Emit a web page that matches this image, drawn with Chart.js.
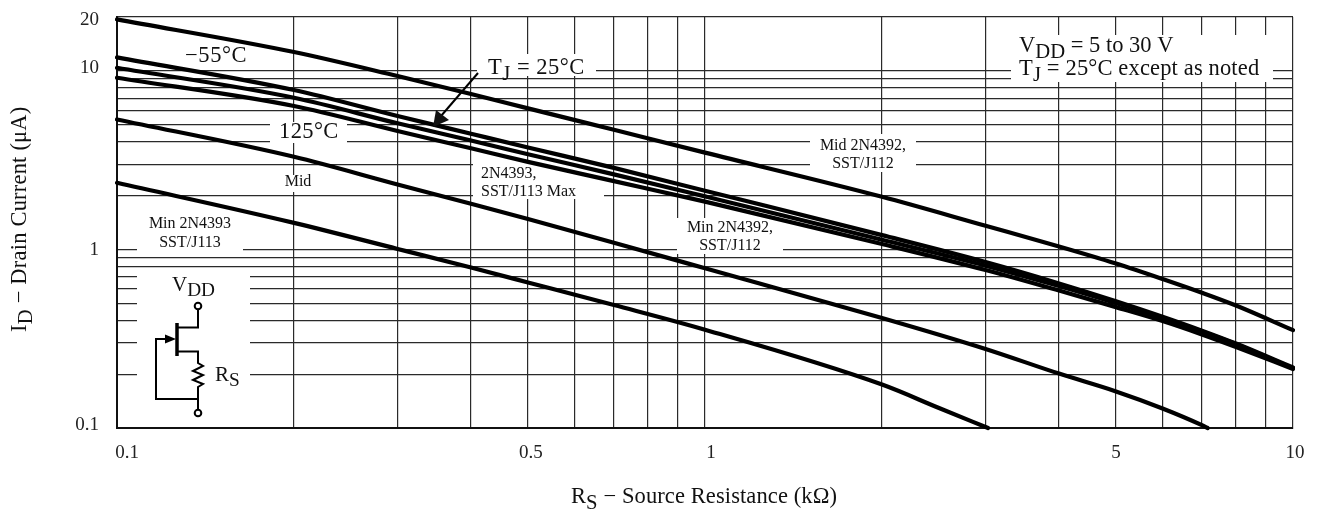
<!DOCTYPE html>
<html>
<head>
<meta charset="utf-8">
<title>Drain Current vs Source Resistance</title>
<script src="https://cdn.jsdelivr.net/npm/chart.js@4"></script>
<style>
  html, body { margin: 0; padding: 0; background: #fff; }
  canvas { display: block; }
</style>
</head>
<body>
<canvas id="idRsChart" width="1320" height="510"></canvas>
<script>
// axis ticks
const xGridValues = [0.1, 0.2, 0.3, 0.4, 0.5, 0.6, 0.7, 0.8, 0.9, 1, 2, 3, 4, 5, 6, 7, 8, 9, 10];
const yGridValues = [0.1, 0.2, 0.3, 0.4, 0.5, 0.6, 0.7, 0.8, 0.9, 1, 2, 3, 4, 5, 6, 7, 8, 9, 10, 20];
const xLabelValues = [0.1, 0.5, 1, 5, 10];
const xLabels = ['0.1', '0.5', '1', '5', '10'];
const xLabelNudge = [10, 3, 6, 0, 2];
const yLabelValues = [0.1, 1, 10, 20];
const yLabels = ['0.1', '1', '10', '20'];
const yLabelNudge = [-3, 1, -3, 3];

// Rs in kOhm
const rsFull = [0.1, 0.2, 0.3, 0.4, 0.5, 0.7, 1, 2, 3, 4, 5, 6, 7, 8, 10];
const rsMid = [0.1, 0.2, 0.3, 0.4, 0.5, 0.7, 1, 2, 3, 4, 5, 6, 7, 7.16];
const rsMin = [0.1, 0.2, 0.3, 0.4, 0.5, 0.7, 1, 2, 2.5, 3.03];

// Id in uA
const idMaxJ112 = [19.4, 12.73, 9.34, 7.41, 6.16, 4.67, 3.48, 1.97, 1.356, 1.039, 0.834, 0.683, 0.572, 0.485, 0.353];
const idCold = [11.89, 7.8, 5.58, 4.44, 3.72, 2.86, 2.13, 1.202, 0.849, 0.645, 0.513, 0.42, 0.351, 0.297, 0.218];
const idRoom = [10.39, 7.06, 5.08, 4.07, 3.41, 2.63, 1.98, 1.133, 0.811, 0.623, 0.5, 0.414, 0.347, 0.295, 0.216];
const idHot = [9.14, 6.35, 4.6, 3.68, 3.09, 2.41, 1.85, 1.071, 0.766, 0.588, 0.475, 0.397, 0.334, 0.284, 0.214];
const idMid = [5.34, 3.3, 2.31, 1.8, 1.478, 1.089, 0.784, 0.413, 0.277, 0.2016, 0.1603, 0.1287, 0.1038, 0.1];
const idMin = [2.36, 1.407, 1.006, 0.791, 0.653, 0.488, 0.355, 0.175, 0.1294, 0.1];

const SERIF = '"Liberation Serif", "Times New Roman", serif';

// white patches that break the grid behind the notes: x, y, w, h
const notePatches = [
    [270, 122, 77, 21],
    [477, 54, 119, 22],
    [1011, 35, 262, 47],
    [810, 134, 106, 38],
    [473, 160, 131, 39],
    [677, 218, 106, 36],
    [283, 175, 31, 17],
    [137, 215, 106, 37],
    [137, 270, 113, 108]
];

// text, centre x, baseline y
const smallNotes = [
    ['Mid 2N4392,', 863, 150],
    ['SST/J112', 863, 168],
    ['Mid', 298, 186],
    ['Min 2N4393', 190, 228],
    ['SST/J113', 190, 247],
    ['Min 2N4392,', 730, 232],
    ['SST/J112', 730, 250]
];

function line(data, xs) {
    return {
        data: data.map((v, i) => ({ x: xs[i], y: v })),
        borderColor: '#000',
        borderWidth: 4.2,
        borderCapStyle: 'round',
        pointRadius: 0,
        cubicInterpolationMode: 'monotone',
        clip: 3
    };
}

// text with subscripts, parts are [text, isSub]
function drawRuns(ctx, parts, x, y, size, spacing) {
    ctx.textAlign = 'left';
    ctx.textBaseline = 'alphabetic';
    ctx.letterSpacing = (spacing || 0) + 'px';
    let cx = x;
    parts.forEach(p => {
        ctx.font = (p[1] ? size * 0.92 : size) + 'px ' + SERIF;
        ctx.fillText(p[0], cx, y + (p[1] ? size * 0.25 : 0));
        cx += ctx.measureText(p[0]).width;
    });
    ctx.letterSpacing = '0px';
}

const notesPlugin = {
    id: 'notesPlugin',
    beforeDraw(chart) {
        // hand placed tick labels, the printed axis has them off centre
        const fixLabels = (scale, values, labels, nudge, idx) => {
            scale.getLabelItems(chart.chartArea).forEach(item => {
                const i = labels.indexOf(item.label);
                if (i >= 0) {
                    item.options.translation[idx] = scale.getPixelForValue(values[i]) + nudge[i];
                }
            });
        };
        fixLabels(chart.scales.x, xLabelValues, xLabels, xLabelNudge, 0);
        fixLabels(chart.scales.y, yLabelValues, yLabels, yLabelNudge, 1);
    },
    beforeDatasetsDraw(chart) {
        const ctx = chart.ctx;
        ctx.save();
        ctx.fillStyle = '#fff';
        notePatches.forEach(p => ctx.fillRect(p[0], p[1], p[2], p[3]));
        ctx.restore();
    },
    afterDatasetsDraw(chart) {
        const ctx = chart.ctx;
        ctx.save();
        ctx.fillStyle = '#111';

        ctx.textAlign = 'center';
        ctx.textBaseline = 'alphabetic';
        ctx.font = '16px ' + SERIF;
        smallNotes.forEach(n => ctx.fillText(n[0], n[1], n[2]));
        ctx.textAlign = 'left';
        ctx.fillText('2N4393,', 481, 178);
        ctx.fillText('SST/J113 Max', 481, 196);

        drawRuns(ctx, [['\u221255\u00b0C', false]], 185, 62, 22.5, 0.6);
        drawRuns(ctx, [['125\u00b0C', false]], 279, 138, 22.5, 0.4);
        drawRuns(ctx, [['T', false], ['J', true], [' = 25\u00b0C', false]], 488, 74, 22.5, 0.5);
        drawRuns(ctx, [['V', false], ['DD', true], [' = 5 to 30 V', false]], 1019, 52, 22.5, 0);
        drawRuns(ctx, [['T', false], ['J', true], [' = 25\u00b0C except as noted', false]], 1019, 75, 22.5, 0.15);

        // arrow to the 25C curve
        ctx.strokeStyle = '#000';
        ctx.lineWidth = 2;
        ctx.beginPath();
        ctx.moveTo(478, 73);
        ctx.lineTo(441, 116);
        ctx.stroke();
        ctx.beginPath();
        ctx.moveTo(433, 127);
        ctx.lineTo(436, 110);
        ctx.lineTo(449, 120);
        ctx.closePath();
        ctx.fill();

        drawCircuit(ctx);

        // axis titles
        drawRuns(ctx, [['R', false], ['S', true], [' \u2212 Source Resistance (k\u03a9)', false]], 571, 503, 22.5, 0.1);
        ctx.save();
        ctx.translate(26, 332);
        ctx.rotate(-Math.PI / 2);
        drawRuns(ctx, [['I', false], ['D', true], [' \u2212 Drain Current (\u03bcA)', false]], 0, 0, 22.5, 0.2);
        ctx.restore();

        ctx.restore();
    }
};

function drawCircuit(ctx) {
    drawRuns(ctx, [['V', false], ['DD', true]], 172, 291, 21);
    drawRuns(ctx, [['R', false], ['S', true]], 215, 381, 21);

    ctx.strokeStyle = '#000';
    ctx.lineWidth = 2;
    ctx.lineJoin = 'miter';
    ctx.beginPath();
    // drain
    ctx.moveTo(198, 309);
    ctx.lineTo(198, 327.5);
    ctx.lineTo(177, 327.5);
    // source and resistor
    ctx.moveTo(177, 351.5);
    ctx.lineTo(198, 351.5);
    ctx.lineTo(198, 363);
    ctx.lineTo(203, 366);
    ctx.lineTo(193, 371);
    ctx.lineTo(203, 375);
    ctx.lineTo(193, 380);
    ctx.lineTo(203, 384);
    ctx.lineTo(198, 387);
    ctx.lineTo(198, 410);
    // gate loop
    ctx.moveTo(198, 399);
    ctx.lineTo(156, 399);
    ctx.lineTo(156, 339);
    ctx.lineTo(170, 339);
    ctx.stroke();

    // channel bar
    ctx.lineWidth = 3.5;
    ctx.beginPath();
    ctx.moveTo(177, 323);
    ctx.lineTo(177, 356);
    ctx.stroke();

    // gate arrow
    ctx.fillStyle = '#000';
    ctx.beginPath();
    ctx.moveTo(176, 339);
    ctx.lineTo(165, 334.5);
    ctx.lineTo(165, 343.5);
    ctx.closePath();
    ctx.fill();

    // terminals
    ctx.lineWidth = 2;
    [306, 413].forEach(y => {
        ctx.beginPath();
        ctx.arc(198, y, 3.3, 0, Math.PI * 2);
        ctx.stroke();
    });
    ctx.fillStyle = '#111';
}

const tickFont = { family: SERIF, size: 19 };

new Chart(document.getElementById('idRsChart').getContext('2d'), {
    type: 'line',
    data: {
        datasets: [
            line(idMaxJ112, rsFull),
            line(idCold, rsFull),
            line(idRoom, rsFull),
            line(idHot, rsFull),
            line(idMid, rsMid),
            line(idMin, rsMin)
        ]
    },
    plugins: [notesPlugin],
    options: {
        responsive: false,
        animation: false,
        layout: { padding: { top: 17, right: 27, left: 0, bottom: 0 } },
        plugins: {
            legend: { display: false },
            title: { display: false },
            tooltip: { enabled: false }
        },
        scales: {
            x: {
                type: 'logarithmic',
                min: 0.1,
                max: 10,
                afterBuildTicks: scale => {
                    scale.ticks = xGridValues.map(v => ({ value: v }));
                },
                afterFit: scale => { scale.height = 82; scale.paddingRight = 0; },
                ticks: {
                    autoSkip: false,
                    maxRotation: 0,
                    padding: 14,
                    color: '#222',
                    font: tickFont,
                    callback: value => {
                        const i = xLabelValues.indexOf(value);
                        return i >= 0 ? xLabels[i] : '';
                    }
                },
                grid: { color: '#2a2a2a', lineWidth: 1.2, drawTicks: false },
                border: { color: '#111', width: 2 }
            },
            y: {
                type: 'logarithmic',
                min: 0.1,
                max: 20,
                afterBuildTicks: scale => {
                    scale.ticks = yGridValues.map(v => ({ value: v }));
                },
                afterFit: scale => { scale.width = 117; scale.paddingTop = 0; scale.paddingBottom = 0; },
                ticks: {
                    autoSkip: false,
                    padding: 18,
                    color: '#222',
                    font: tickFont,
                    callback: value => {
                        const i = yLabelValues.indexOf(value);
                        return i >= 0 ? yLabels[i] : '';
                    }
                },
                grid: { color: '#2a2a2a', lineWidth: 1.2, drawTicks: false },
                border: { color: '#111', width: 2 }
            }
        }
    }
});
</script>
</body>
</html>
